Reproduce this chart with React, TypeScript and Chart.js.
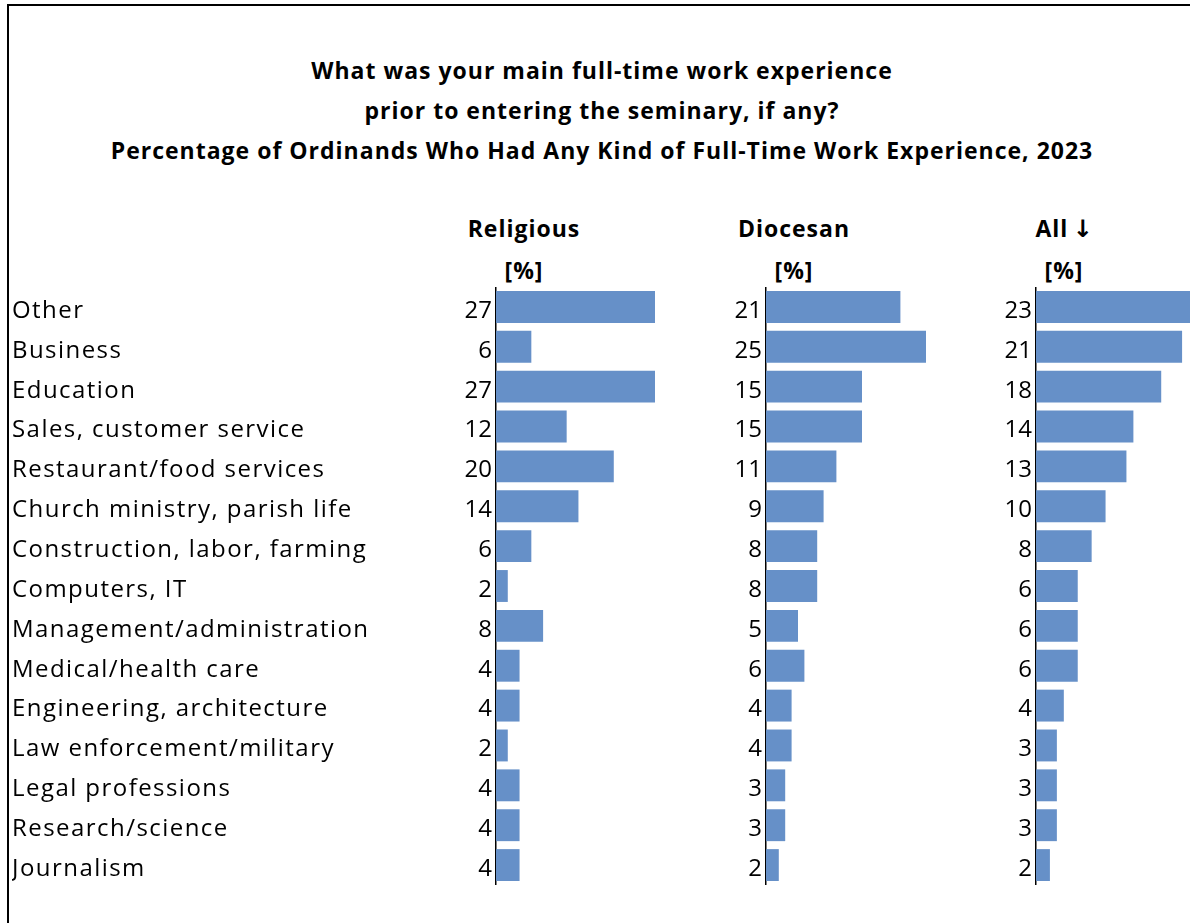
import React, { useEffect, useRef } from "react";
import { Chart, registerables } from "chart.js";

Chart.register(...registerables);

// ---------- data ----------
const categories = [
  "Other",
  "Business",
  "Education",
  "Sales, customer service",
  "Restaurant/food services",
  "Church ministry, parish life",
  "Construction, labor, farming",
  "Computers, IT",
  "Management/administration",
  "Medical/health care",
  "Engineering, architecture",
  "Law enforcement/military",
  "Legal professions",
  "Research/science",
  "Journalism",
];
const religious = [27, 6, 27, 12, 20, 14, 6, 2, 8, 4, 4, 2, 4, 4, 4];
const diocesan = [21, 25, 15, 15, 11, 9, 8, 8, 5, 6, 4, 4, 3, 3, 2];
const allOrdinands = [23, 21, 18, 14, 13, 10, 8, 6, 6, 6, 4, 3, 3, 3, 2];
const panelTitles = ["Religious", "Diocesan", "All"];
const sortMark = "↓";
const unitLabel = "[%]";
const titleLines = [
  "What was your main full-time work experience",
  "prior to entering the seminary, if any?",
  "Percentage of Ordinands Who Had Any Kind of Full-Time Work Experience, 2023",
];

// ---------- style ----------
const BAR_COLOR = "#6690C8";
const FONT = "'Open Sans', sans-serif";
const LABEL_SIZE = 24;
const VALUE_SIZE = 24;
const LABEL_SPACING = 1.45;
const TITLE_SIZE = 23;
const TITLE_SPACING = 1.0;

const PLOT_TOP = 287;
const PLOT_HEIGHT = 598;

type PanelSpec = {
  values: number[];
  canvasLeft: number;
  axisOffset: number;
  plotWidth: number;
  showLabels: boolean;
  title: string;
  mark?: string;
};

const panels: PanelSpec[] = [
  { values: religious, canvasLeft: 12, axisOffset: 484, plotWidth: 159, showLabels: true, title: panelTitles[0] },
  { values: diocesan, canvasLeft: 726, axisOffset: 40, plotWidth: 160, showLabels: false, title: panelTitles[1] },
  { values: allOrdinands, canvasLeft: 996, axisOffset: 40, plotWidth: 160, showLabels: false, title: panelTitles[2], mark: sortMark },
];

const spacingPlugin = {
  id: "spacing",
  beforeDraw(chart: any) {
    try {
      (chart.ctx as any).letterSpacing = LABEL_SPACING + "px";
    } catch (e) {}
  },
};

const valueLabelPlugin = {
  id: "valueLabels",
  afterDatasetsDraw(chart: any) {
    const { ctx, chartArea } = chart;
    const meta = chart.getDatasetMeta(0);
    const data = chart.data.datasets[0].data as number[];
    ctx.save();
    try {
      ctx.letterSpacing = "0px";
    } catch (e) {}
    ctx.font = `${VALUE_SIZE}px ${FONT}`;
    ctx.fillStyle = "#000";
    ctx.textAlign = "right";
    ctx.textBaseline = "middle";
    meta.data.forEach((bar: any, i: number) => {
      ctx.fillText(String(data[i]), chartArea.left - 4, bar.y + 4);
    });
    ctx.restore();
  },
};

function Panel({ spec }: { spec: PanelSpec }) {
  const ref = useRef<HTMLCanvasElement | null>(null);
  useEffect(() => {
    if (!ref.current) return;
    const maxV = Math.max(...spec.values);
    const chart = new Chart(ref.current, {
      type: "bar",
      data: {
        labels: categories,
        datasets: [
          {
            data: spec.values,
            backgroundColor: BAR_COLOR,
            borderWidth: 0,
            barPercentage: 0.8,
            categoryPercentage: 1,
          },
        ],
      },
      options: {
        indexAxis: "y",
        responsive: false,
        maintainAspectRatio: false,
        animation: false,
        layout: { padding: 0 },
        plugins: {
          legend: { display: false },
          tooltip: { enabled: false },
          title: { display: false },
        },
        scales: {
          x: { display: false, min: 0, max: maxV },
          y: {
            display: true,
            grid: { display: true, drawOnChartArea: false, drawTicks: false, color: "rgba(0,0,0,0)" },
            border: { display: true, color: "#000", width: 1.5 },
            ticks: {
              display: spec.showLabels,
              crossAlign: "far",
              color: "#000",
              padding: 0,
              labelOffset: 4,
              autoSkip: false,
              font: { family: FONT, size: LABEL_SIZE },
            },
            afterFit: (s: any) => {
              s.width = spec.axisOffset;
              s.paddingTop = 0;
              s.paddingBottom = 0;
            },
          },
        },
      } as any,
      plugins: [spacingPlugin, valueLabelPlugin],
    });
    return () => chart.destroy();
  }, [spec]);
  return (
    <canvas
      ref={ref}
      width={spec.axisOffset + spec.plotWidth}
      height={PLOT_HEIGHT}
      style={{
        position: "absolute",
        left: spec.canvasLeft,
        top: PLOT_TOP,
        width: spec.axisOffset + spec.plotWidth,
        height: PLOT_HEIGHT,
      }}
    />
  );
}

export default function App() {
  const boldText: React.CSSProperties = {
    position: "absolute",
    fontFamily: FONT,
    fontWeight: 700,
    fontSize: TITLE_SIZE,
    letterSpacing: TITLE_SPACING,
    color: "#000",
    whiteSpace: "nowrap",
    lineHeight: "40px",
    textAlign: "center",
  };
  return (
    <div
      style={{
        position: "fixed",
        left: 0,
        top: 0,
        width: 1190,
        height: 923,
        overflow: "hidden",
        background: "#fff",
      }}
    >
      <div
        style={{
          position: "absolute",
          left: 7,
          top: 4,
          width: 1188,
          height: 940,
          border: "2px solid #000",
          boxSizing: "border-box",
        }}
      />
      {titleLines.map((t, i) => (
        <div key={i} style={{ ...boldText, left: 8, width: 1188, top: 50 + i * 40 }}>
          {t}
        </div>
      ))}
      {panels.map((p, i) => {
        const cx = p.canvasLeft + p.axisOffset + 28;
        return (
          <React.Fragment key={i}>
            <div style={{ ...boldText, left: cx - 100, width: 200, top: 208 }}>
              {p.title}
              {p.mark ? (
                <span
                  style={{
                    fontFamily: "'DejaVu Sans', sans-serif",
                    fontWeight: 700,
                    fontSize: 24,
                    letterSpacing: 0,
                    marginLeft: 4,
                  }}
                >
                  {p.mark}
                </span>
              ) : null}
            </div>
            <div style={{ ...boldText, left: cx - 100, width: 200, top: 250 }}>{unitLabel}</div>
          </React.Fragment>
        );
      })}
      {panels.map((p, i) => (
        <Panel key={i} spec={p} />
      ))}
    </div>
  );
}
